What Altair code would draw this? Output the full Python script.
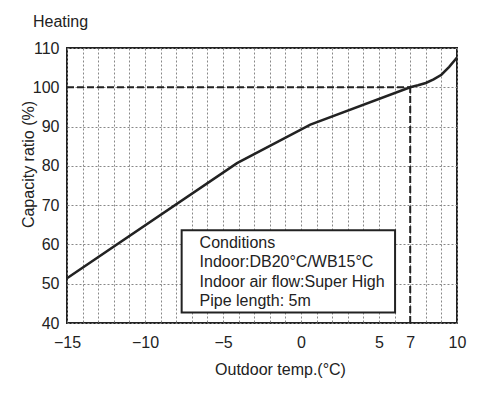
import altair as alt
import pandas as pd

# curve data
temps = [-15, -4.1, 0.6, 7, 7.5, 8, 8.5, 9, 9.5, 10]
ratios = [51.4, 80.7, 90.5, 100, 100.5, 101.1, 102.0, 103.2, 105.2, 107.6]

x_ticks = list(range(-15, 11))
x_labels = [-15, -10, -5, 0, 5, 7, 10]
y_ticks = list(range(40, 111, 10))

ref_temp = 7
ref_ratio = 100

cond_lines = ["Conditions", "Indoor:DB20°C/WB15°C", "Indoor air flow:Super High", "Pipe length: 5m"]
cond_y = [59.1, 54.2, 49.2, 44.3]
box = {"x": -7.65, "x2": 6.03, "y": 42.7, "y2": 63.6}

FONT = "Liberation Sans"
curve_df = pd.DataFrame({"t": temps, "r": ratios})

xs = alt.Scale(domain=[-15, 10], nice=False, zero=False)
ys = alt.Scale(domain=[40, 110], nice=False, zero=False)

label_expr = "indexof([" + ",".join(str(v) for v in x_labels) + "], datum.value) >= 0 ? datum.label : ''"

x_axis = alt.Axis(
    values=x_ticks, labelExpr=label_expr, title="Outdoor temp.(°C)", grid=True,
    gridDash=[2, 2], gridColor="#888", gridOpacity=1, ticks=False, domain=False,
    labelFlush=False, labelOverlap=False, labelBound=False, labelPadding=11,
    titleX=213, titleY=51, titleBaseline="alphabetic", titleAlign="center",
    labelFontSize=16, titleFontSize=16, labelFont=FONT, titleFont=FONT,
    labelColor="#222", titleColor="#222", titleFontWeight="normal")
y_axis = alt.Axis(
    values=y_ticks, title="Capacity ratio (%)", grid=True, gridDash=[2, 2],
    gridColor="#888", gridOpacity=1, ticks=False, domain=False, labelPadding=8,
    labelOverlap=False, titleX=-34, titleY=116, titleBaseline="alphabetic", titleAlign="center",
    titleAngle=270, labelFontSize=16, titleFontSize=16, labelFont=FONT, titleFont=FONT,
    labelColor="#222", titleColor="#222", titleFontWeight="normal")

curve = alt.Chart(curve_df).mark_line(color="#222", strokeWidth=2.5).encode(
    x=alt.X("t:Q", scale=xs, axis=x_axis), y=alt.Y("r:Q", scale=ys, axis=y_axis))

hdash = alt.Chart(pd.DataFrame({"t": [-15], "t2": [ref_temp], "r": [ref_ratio]})).mark_rule(
    color="#222", strokeWidth=2, strokeDash=[7, 3]).encode(
    x=alt.X("t:Q", scale=xs, axis=x_axis), x2="t2:Q", y=alt.Y("r:Q", scale=ys, axis=y_axis))
vdash = alt.Chart(pd.DataFrame({"t": [ref_temp], "r": [40], "r2": [ref_ratio]})).mark_rule(
    color="#222", strokeWidth=2, strokeDash=[7, 3]).encode(
    x=alt.X("t:Q", scale=xs, axis=x_axis), y=alt.Y("r:Q", scale=ys, axis=y_axis), y2="r2:Q")

rect = alt.Chart(pd.DataFrame([box])).mark_rect(fill="white", stroke="#222", strokeWidth=2).encode(
    x=alt.X("x:Q", scale=xs, axis=x_axis), x2="x2:Q", y=alt.Y("y:Q", scale=ys, axis=y_axis), y2="y2:Q")

text = alt.Chart(pd.DataFrame({"t": [-6.5] * 4, "r": cond_y, "txt": cond_lines})).mark_text(
    align="left", baseline="alphabetic", fontSize=16, font=FONT, color="#222").encode(
    x=alt.X("t:Q", scale=xs, axis=x_axis), y=alt.Y("r:Q", scale=ys, axis=y_axis), text="txt:N")

chart = alt.layer(curve, hdash, vdash, rect, text).properties(
    width=390, height=275,
    title=alt.TitleParams("Heating", anchor="start", frame="group", dx=-34, offset=10,
                          fontSize=16, font=FONT, fontWeight="normal", color="#222"),
    autosize=alt.AutoSizeParams(type="none"),
    padding={"left": 59, "top": 40, "right": 30, "bottom": 66},
).configure_view(stroke="#222", strokeWidth=2)

chart.save("out.html", embed_options={"renderer": "svg", "actions": False})
